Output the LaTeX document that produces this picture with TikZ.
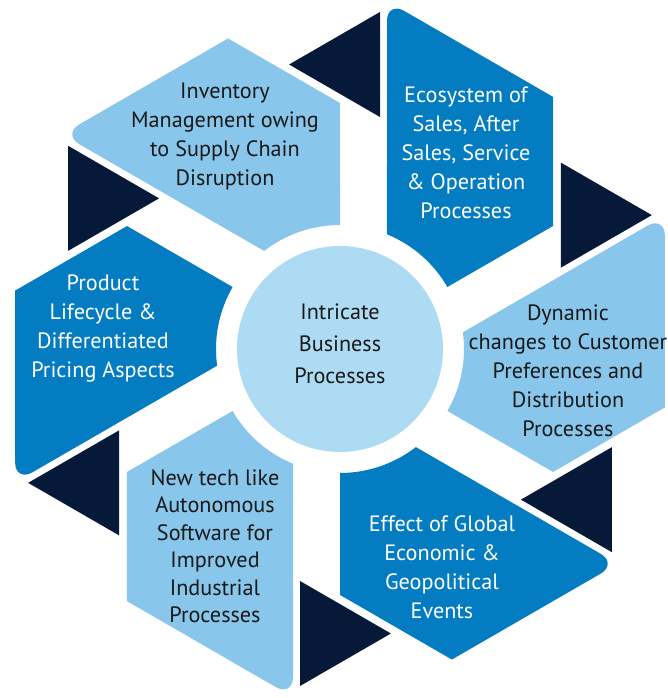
\documentclass[tikz,border=0pt]{standalone}
\usepackage{fontspec}
\setmainfont{PT Sans}
\usepackage{tikz}
\definecolor{dkblue}{HTML}{047CC1}
\definecolor{ltblue}{HTML}{88C6EB}
\definecolor{hubblue}{HTML}{AEDBF4}
\definecolor{navy}{HTML}{061939}
\tikzset{
    piece-text/.style = {align=center, inner sep=0pt, font=\fontsize{22.2}{29}\selectfont},
    piece-text-dark/.style = {piece-text, text=white},
    piece-text-light/.style = {piece-text, text=black!90},
    pointer/.style = {fill=navy},
    hub/.style = {circle, fill=hubblue, minimum size=206pt, inner sep=0pt},
}

\begin{document}
\begin{tikzpicture}[x=1pt, y=1pt]
\useasboundingbox (-340,-349) rectangle (328,349);
% six segments, each with its pointer
\foreach \k/\col in {0/dkblue,1/ltblue,2/dkblue,3/ltblue,4/dkblue,5/ltblue}{
  \begin{scope}[rotate=-60*\k]
    \fill[\col] (47,200) [rounded corners=20pt] -- (47,348) -- (130,300.08) [sharp corners] -- (213,252.16) -- (213,122.98) -- (30:124) arc[start angle=30, end angle=67.73, radius=124] -- cycle;
    \fill[pointer] (40,232) -- (40,337) -- (-50.9,284.5) -- cycle;
  \end{scope}
}
\node[hub] (hub) at (0,0) {};
\node[piece-text-light, font=\fontsize{22.2}{32}\selectfont] (hub-text) at (0,5) {Intricate\\Business\\Processes};

\node[piece-text-light] (inventory) at (-115,213) {Inventory\\Management owing\\to Supply Chain\\Disruption};
\node[piece-text-dark] (ecosystem) at (126,196) {Ecosystem of\\Sales, After\\Sales, Service\\\& Operation\\Processes};
\node[piece-text-light] (dynamic) at (228,-22) {Dynamic\\changes to Customer\\Preferences and\\Distribution\\Processes};
\node[piece-text-dark] (effect) at (102,-218) {Effect of Global\\Economic \&\\Geopolitical\\Events};
\node[piece-text-light, font=\fontsize{22.2}{27.5}\selectfont] (newtech) at (-125,-197) {New tech like\\Autonomous\\Software for\\Improved\\Industrial\\Processes};
\node[piece-text-dark] (product) at (-237,21) {Product\\Lifecycle \&\\Differentiated\\Pricing Aspects};
\end{tikzpicture}
\end{document}
